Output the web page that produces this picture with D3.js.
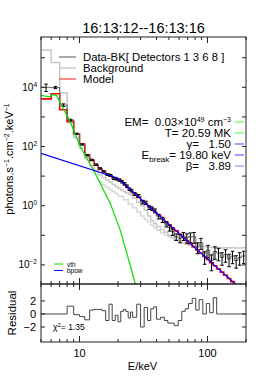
<!DOCTYPE html>
<html>
<head>
<meta charset="utf-8">
<script src="https://cdn.jsdelivr.net/npm/d3@7"></script>
<style>
body { margin: 0; background: #fff; }
text { font-family: "Liberation Sans", Arial, sans-serif; fill: #000; white-space: pre; }
</style>
</head>
<body>
<div id="chart"></div>
<script>
// energy bin edges (keV)
var edges = [5,6,7,8,9,10,11,12,13,14,15,16,17,18,19,20,21,22,23,24,25,26,28,30,32,34,36,38,40,
  43,46,49,52,55,59,63,67,71,76,81,86,92,98,104,111,118,126,134,143,152,162,173,184,200];

// Data - background (photons/s/cm2/keV), one per bin
var dataFlux = [10000,9800,2510,794,269,117,50.1,35.5,24.5,18.2,14.5,11.2,10.7,8.32,7.94,7.24,6.46,5.50,4.57,3.63,3.24,
  2.51,2.14,1.32,1.26,0.871,0.794,0.676,
  0.437,0.339,0.240,0.178,0.132,0.0891,
  0.0794,0.0955,0.0832,0.0891,0.0891,0.0398,0.0562,0.0191,0.0316,0.0141,0.0282,
  0.0251,0.0178,0.0224,0.0158,0.0200,0.0141,0.0178,0.0200];
// relative 1-sigma errors
var dataErr = [0.28,0.08,0.10,
  0.05,0.05,0.05,0.05,0.05,0.06,0.06,0.06,0.07,0.07,0.08,0.08,0.09,0.09,0.1,0.1,0.1,0.1,
  0.12,0.12,0.13,0.13,0.14,0.14,0.15,
  0.18,0.2,0.2,0.22,0.25,0.25,
  0.3,0.3,0.35,0.35,0.4,0.4,0.4,0.45,0.45,0.55,0.45,
  0.45,0.45,0.45,0.45,0.45,0.45,0.45,0.45];

// background
var bkFlux = [182000,69200,6460,631,200,89.1,39.8,22.4,15.1,11.2,8.91,7.41,6.31,5.25,4.47,3.80,3.31,2.95,2.69,2.51,2.29,
  1.78,1.32,1.0,0.708,0.447,0.316,0.251,
  0.200,0.158,0.126,0.100,0.0832,0.0708,
  0.0631,0.0562,0.0501,0.0468,0.0447,0.0427,0.0427,0.0417,0.0398,0.0398,0.0380,
  0.0380,0.0372,0.0380,0.0372,0.0380,0.0372,0.0372,0.0380];
var bkLowEdges = [14,15,16,17,18,19,20,22,24,26,28,30,32,34,36,38,40,43,46,49,52];
var bkLowFlux = [6.3,5.0,4.2,3.5,3.0,2.6,2.1,1.6,1.15,0.85,0.62,0.45,0.35,0.28,0.22,0.18,0.15,0.12,0.1,0.09];

// fitted model (vth + bpow)
var modelFlux = [4070,6030,1740,708,269,120,52.5,33.9,23.4,17.4,14.1,11.7,10.0,8.71,7.94,7.76,6.31,5.25,4.47,3.76,3.21,
  2.57,1.95,1.50,1.18,0.938,0.753,0.615,
  0.483,0.368,0.285,0.225,0.180,0.141,
  0.108,0.0843,0.0668,0.0522,0.0405,0.0318,0.0248,0.0193,0.0152,0.0119,0.00933,
  0.00726,0.00569,0.00445,0.00348,0.00272,0.00212,0.00166,0.00126];

// normalised residuals (0 outside the fit range)
var residual = [0,0,0,
  1.2,-0.1,-0.4,-0.9,0.6,0.7,0.7,0.5,-1.0,1.5,-1.0,-0.2,-1.2,0.4,0.7,0.4,-0.6,0.3,
  -0.5,1.5,-2.0,1.0,-1.0,0.8,1.1,
  -0.8,-0.5,-1.0,-1.4,-1.4,-1.8,
  -1.0,0.4,0.8,1.6,2.4,0.6,2.2,0.0,1.6,0.2,2.5,
  0,0,0,0,0,0,0,0];

// thermal component
var vthE = [5,5.4,5.9,6.1,6.6,7.2,8.2,9,10,11.4,12.9,14.1,17.4,20.8,24.2,27.2,30];
var vthFlux = [5370,5010,4790,5620,5370,2570,912,355,112,39.8,15.8,7.2,1.2,0.15,0.015,0.0024,0.0004];

// broken power law component
var bpowE = [5,19.8,200];
var bpowFlux = [59,8.6,0.00107];

var yTicks = [1e-2,1e-1,1,10,100,1e3,1e4,1e5];
var yLabels = [[1e-2,"\u22122"],[1,"0"],[100,"2"],[1e4,"4"]];
var xMajor = [10,100];
var xMinor = [5,6,7,8,9,20,30,40,50,60,70,80,90,200];
var resTicks = [-2,0,2];

var width = 273, height = 381;
var L = 41, R = 246, T = 37, B = 284, RB = 342;

var svg = d3.select("#chart").append("svg")
  .attr("width", width)
  .attr("height", height);

var x = d3.scaleLog().domain([5,200]).range([L,R]);
var y = d3.scaleLog().domain([0.002265,501200]).range([B,T]);
var yr = d3.scaleLinear().domain([-4.3,4.6]).range([RB,B]);

svg.append("clipPath").attr("id","clipMain")
  .append("rect").attr("x",L).attr("y",T).attr("width",R-L).attr("height",B-T);
svg.append("clipPath").attr("id","clipRes")
  .append("rect").attr("x",L).attr("y",B).attr("width",R-L).attr("height",RB-B);

function steps(e, vals) {
  var pts = [];
  vals.forEach(function(v,i) { pts.push([e[i],v]); pts.push([e[i+1],v]); });
  return pts;
}
var line = d3.line().x(function(d){ return x(d[0]); }).y(function(d){ return y(d[1]); });
var rline = d3.line().x(function(d){ return x(d[0]); }).y(function(d){ return yr(d[1]); });

var g = svg.append("g").attr("clip-path","url(#clipMain)");

// background
g.append("path").attr("d", line(steps(bkLowEdges, bkLowFlux)))
  .attr("fill","none").attr("stroke","#d8d8d8").attr("stroke-width",1.5);
g.append("path").attr("d", line(steps(edges, bkFlux)))
  .attr("fill","none").attr("stroke","#c8c8c8").attr("stroke-width",1.5);

// model
g.append("path").attr("d", line(steps(edges, modelFlux)))
  .attr("fill","none").attr("stroke","#ff0000").attr("stroke-width",1.6);

// data
g.append("path").attr("d", line(steps(edges, dataFlux)))
  .attr("fill","none").attr("stroke","#666").attr("stroke-width",1);

var bins = dataFlux.map(function(d,i) {
  return {e: Math.sqrt(edges[i]*edges[i+1]), v: d, lo: d*(1-dataErr[i]), hi: d*(1+dataErr[i])};
});
var eb = g.append("g").attr("stroke","#000").attr("stroke-width",1);
bins.forEach(function(b) {
  var cx = x(b.e);
  eb.append("line").attr("x1",cx).attr("x2",cx).attr("y1",y(b.lo)).attr("y2",y(b.hi));
  eb.append("line").attr("x1",cx-1.8).attr("x2",cx+1.8).attr("y1",y(b.lo)).attr("y2",y(b.lo));
  eb.append("line").attr("x1",cx-1.8).attr("x2",cx+1.8).attr("y1",y(b.hi)).attr("y2",y(b.hi));
});

// components
g.append("path").attr("d", line(vthE.map(function(e,i){ return [e, vthFlux[i]]; })))
  .attr("fill","none").attr("stroke","#00e000").attr("stroke-width",1.2);
g.append("path").attr("d", line(bpowE.map(function(e,i){ return [e, bpowFlux[i]]; })))
  .attr("fill","none").attr("stroke","#0000ff").attr("stroke-width",1.2);

// residual
svg.append("path").attr("clip-path","url(#clipRes)")
  .attr("d", rline(steps(edges, residual)))
  .attr("fill","none").attr("stroke","#444").attr("stroke-width",1);

// frames
svg.append("rect").attr("x",L).attr("y",T).attr("width",R-L).attr("height",B-T)
  .attr("fill","none").attr("stroke","#222");
svg.append("rect").attr("x",L).attr("y",B).attr("width",R-L).attr("height",RB-B)
  .attr("fill","none").attr("stroke","#222");

// ticks
var tk = svg.append("g").attr("stroke","#222").attr("stroke-width",1);
function xt(v, len) {
  var px = x(v);
  [[T,1],[B,-1],[B,1],[RB,-1]].forEach(function(p) {
    tk.append("line").attr("x1",px).attr("x2",px).attr("y1",p[0]).attr("y2",p[0]+p[1]*len);
  });
}
xMajor.forEach(function(v){ xt(v,6); });
xMinor.forEach(function(v){ xt(v,3); });
yTicks.forEach(function(v) {
  tk.append("line").attr("x1",L).attr("x2",L+4).attr("y1",y(v)).attr("y2",y(v));
  tk.append("line").attr("x1",R).attr("x2",R-4).attr("y1",y(v)).attr("y2",y(v));
});
resTicks.forEach(function(v) {
  tk.append("line").attr("x1",L).attr("x2",L+4).attr("y1",yr(v)).attr("y2",yr(v));
  tk.append("line").attr("x1",R).attr("x2",R-4).attr("y1",yr(v)).attr("y2",yr(v));
});

// tick labels
yLabels.forEach(function(d) {
  var t = svg.append("text").attr("x",37).attr("y",y(d[0])+3.5)
    .attr("text-anchor","end").style("font-size","10px");
  t.append("tspan").text("10");
  t.append("tspan").attr("dy",-4).style("font-size","6.5px").text(d[1]);
});
resTicks.forEach(function(v) {
  svg.append("text").attr("x",36).attr("y",yr(v)+4)
    .attr("text-anchor","end").style("font-size","11px")
    .text(v < 0 ? "\u2212" + (-v) : v);
});
xMajor.forEach(function(v) {
  svg.append("text").attr("x",x(v)).attr("y",357)
    .attr("text-anchor","middle").style("font-size","11px").text(v);
});

// titles
svg.append("text").attr("x",143.5).attr("y",33).attr("text-anchor","middle")
  .style("font-size","14.5px").text("16:13:12--16:13:16");
svg.append("text").attr("x",142.5).attr("y",370).attr("text-anchor","middle")
  .style("font-size","11px").text("E/keV");
svg.append("text").attr("transform","translate(16,313) rotate(-90)")
  .attr("text-anchor","middle").style("font-size","11.5px").text("Residual");

var yl = svg.append("text").attr("transform","translate(13,159) rotate(-90)")
  .attr("text-anchor","middle").style("font-size","11px");
[["photons.s",null],["\u22121","sup"],[".cm",null],["\u22122","sup"],[".keV",null],["\u22121","sup"]].forEach(function(p) {
  var s = yl.append("tspan").text(p[0]);
  if (p[1]) s.attr("dy",-4.5).style("font-size","7px");
  else s.attr("dy", p[0] === "photons.s" ? 0 : 4.5);
});

// legend
var legend = [
  {label: "Data-BK[ Detectors 1 3 6 8 ]", color: "#555", w: 1},
  {label: "Background", color: "#d8d8d8", w: 2},
  {label: "Model", color: "#ff4040", w: 1.2}
];
legend.forEach(function(d,i) {
  var yy = 61 + i*11;
  svg.append("line").attr("x1",59).attr("x2",76).attr("y1",yy-4).attr("y2",yy-4)
    .attr("stroke",d.color).attr("stroke-width",d.w);
  svg.append("text").attr("x",83).attr("y",yy).style("font-size","11.3px").text(d.label);
});

// fit parameters
var params = [
  {parts: [["EM=\u00a0\u00a00.03\u00d710",0],["49",-1],[" cm",1],["\u22123",-1]], color: "#40ff40"},
  {parts: [["T= 20.59 MK",0]], color: "#40ff40"},
  {parts: [["\u03b3=\u00a0\u00a0\u00a01.50",0]], color: "#4040ff"},
  {parts: [["E",0],["break",2],["= 19.80 keV",-2]], color: "#4040ff"},
  {parts: [["\u03b2=\u00a0\u00a0\u00a03.89",0]], color: "#8080ff"}
];
params.forEach(function(p,i) {
  var yy = 126 + i*11;
  var t = svg.append("text").attr("x",231).attr("y",yy).attr("text-anchor","end")
    .style("font-size","11.5px");
  var shift = 0;
  p.parts.forEach(function(q) {
    var s = t.append("tspan").text(q[0]);
    if (q[1] === -1) { s.attr("dy",-4.5 - shift).style("font-size","7px"); shift = -4.5; }
    else if (q[1] === 2) { s.attr("dy",3).style("font-size","8px"); shift = 3; }
    else if (q[1] === 1) { s.attr("dy",-shift); shift = 0; }
    else if (q[1] === -2) { s.attr("dy",-shift); shift = 0; }
  });
  svg.append("line").attr("x1",235).attr("x2",244).attr("y1",yy-4).attr("y2",yy-4)
    .attr("stroke",p.color).attr("stroke-width",1);
});

// component legend
[["vth","#00e000"],["bpow","#0000ff"]].forEach(function(d,i) {
  var yy = 264 + i*6.5;
  svg.append("line").attr("x1",54).attr("x2",63).attr("y1",yy).attr("y2",yy)
    .attr("stroke",d[1]).attr("stroke-width",1);
  svg.append("text").attr("x",67).attr("y",yy+2.5).style("font-size","6.5px").text(d[0]);
});

// chi square
var chi = svg.append("text").attr("x",53).attr("y",330).style("font-size","8.5px");
chi.append("tspan").text("\u03c7");
chi.append("tspan").attr("dy",-3.5).style("font-size","6px").text("2");
chi.append("tspan").attr("dy",3.5).text("= 1.35");
</script>
</body>
</html>
